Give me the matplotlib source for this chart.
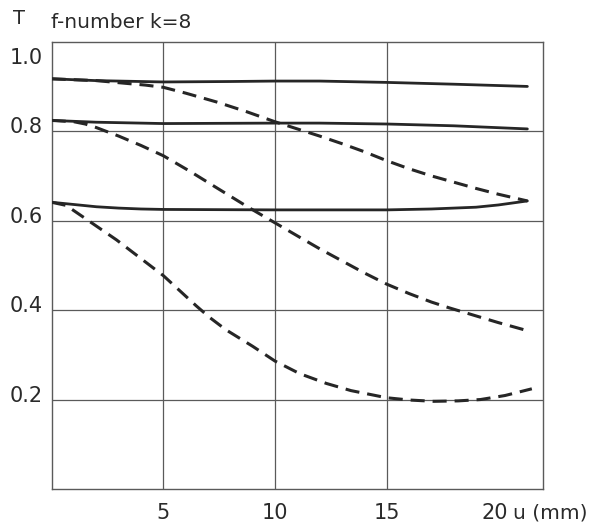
import matplotlib
matplotlib.use("Agg")
import matplotlib.pyplot as plt
import matplotlib.transforms as mtransforms

# ---- data (u in mm, T) ----
solid_top_x = [0, 2, 5, 8, 10, 12, 15, 18, 21.3]
solid_top_y = [0.917, 0.913, 0.910, 0.911, 0.912, 0.912, 0.909, 0.905, 0.900]

dash_top_x = [0, 2, 3.3, 4.2, 5, 6, 7.4, 8.7, 10, 11, 12, 13, 14, 15, 16, 17, 18, 19, 20, 21.3]
dash_top_y = [0.917, 0.913, 0.907, 0.903, 0.898, 0.885, 0.865, 0.844, 0.821, 0.805, 0.789, 0.772, 0.754, 0.734, 0.716, 0.700, 0.686, 0.672, 0.659, 0.644]

solid_mid_x = [0, 2, 5, 10, 12, 15, 18, 21.3]
solid_mid_y = [0.824, 0.820, 0.817, 0.818, 0.818, 0.816, 0.812, 0.805]

dash_mid_x = [0, 1, 1.5, 2, 3, 4, 5, 6.2, 7.4, 8.8, 10, 11.1, 12, 13, 14, 15, 16, 17, 17.8, 19, 20, 21.3]
dash_mid_y = [0.824, 0.821, 0.816, 0.808, 0.789, 0.768, 0.745, 0.710, 0.673, 0.630, 0.595, 0.563, 0.537, 0.510, 0.483, 0.458, 0.437, 0.418, 0.405, 0.387, 0.372, 0.354]

solid_bot_x = [0, 1, 2, 3, 4, 5, 10, 15, 17, 19, 20, 21.3]
solid_bot_y = [0.641, 0.636, 0.631, 0.628, 0.626, 0.625, 0.624, 0.624, 0.626, 0.630, 0.635, 0.644]

dash_bot_x = [0, 0.65, 2.9, 5, 6.46, 7.06, 7.8, 9, 10, 11.1, 12.3, 13.4, 14.5, 15, 16, 17.1, 18.2, 19.2, 20.3, 21.5]
dash_bot_y = [0.641, 0.634, 0.557, 0.477, 0.410, 0.384, 0.356, 0.319, 0.286, 0.258, 0.236, 0.220, 0.209, 0.204, 0.199, 0.196, 0.197, 0.200, 0.209, 0.224]

y_ticks = [0.2, 0.4, 0.6, 0.8, 1.0]
y_tick_labels = ["0.2", "0.4", "0.6", "0.8", "1.0"]
x_ticks = [5, 10, 15, 20]
x_tick_labels = ["5", "10", "15", "20"]
x_grid = [5, 10, 15]
y_grid = [0.2, 0.4, 0.6, 0.8]
y_axis_label = "T"
title_text = "f-number k=8"
x_unit_label = "u (mm)"

# ---- figure ----
plt.rcParams['font.family'] = ['DejaVu Sans']
fig = plt.figure(figsize=(5.94, 5.28), dpi=100)
ax = fig.add_axes([51.7 / 594, 1 - 489 / 528, (543 - 51.7) / 594, (489 - 41.7) / 528])
ax.set_xlim(0, 22)
ax.set_ylim(0, 1.0)

line_col = "#262626"
grid_col = "#5a5a5a"
for gx in x_grid:
    ax.axvline(gx, color=grid_col, lw=0.9, zorder=1)
for gy in y_grid:
    ax.axhline(gy, color=grid_col, lw=0.9, zorder=1)
for s in ax.spines.values():
    s.set_color(grid_col)
    s.set_linewidth(1.0)

ax.set_xticks([])
ax.set_yticks([])

dash = (0, (4.6, 2.6))
for xs, ys in [(solid_top_x, solid_top_y), (solid_mid_x, solid_mid_y), (solid_bot_x, solid_bot_y)]:
    ax.plot(xs, ys, color=line_col, lw=2.0, solid_capstyle='round', solid_joinstyle='round', zorder=3)
for xs, ys in [(dash_top_x, dash_top_y), (dash_mid_x, dash_mid_y), (dash_bot_x, dash_bot_y)]:
    ax.plot(xs, ys, color=line_col, lw=2.2, linestyle=dash, dash_joinstyle='round', zorder=3)

text_col = "#2a2a2a"
# y tick labels
ytrans = mtransforms.blended_transform_factory(ax.transAxes, ax.transData)
for v, lab in zip(y_ticks, y_tick_labels):
    dy = -16 if v >= 1.0 else 4
    t = mtransforms.offset_copy(ytrans, fig=fig, x=-9, y=dy, units='dots')
    ax.text(0, v, lab, transform=t, ha='right', va='center', fontsize=15, color=text_col)

# x tick labels
xtrans = mtransforms.blended_transform_factory(ax.transData, ax.transAxes)
for v, lab in zip(x_ticks, x_tick_labels):
    dx = -4 if v == 20 else 0
    t = mtransforms.offset_copy(xtrans, fig=fig, x=dx, y=-24, units='dots')
    ax.text(v, 0, lab, transform=t, ha='center', va='center', fontsize=15, color=text_col)
t = mtransforms.offset_copy(xtrans, fig=fig, x=15, y=-24, units='dots')
ax.text(x_ticks[-1], 0, x_unit_label, transform=t, ha='left', va='center', fontsize=14.5, color=text_col)

fig.text(19 / 594, 1 - 18 / 528, y_axis_label, ha='center', va='center', fontsize=14, color=text_col)
fig.text(51 / 594, 1 - 23 / 528, title_text, ha='left', va='center', fontsize=14.5, color=text_col)

fig.savefig("out.png", dpi=100, facecolor="white")
